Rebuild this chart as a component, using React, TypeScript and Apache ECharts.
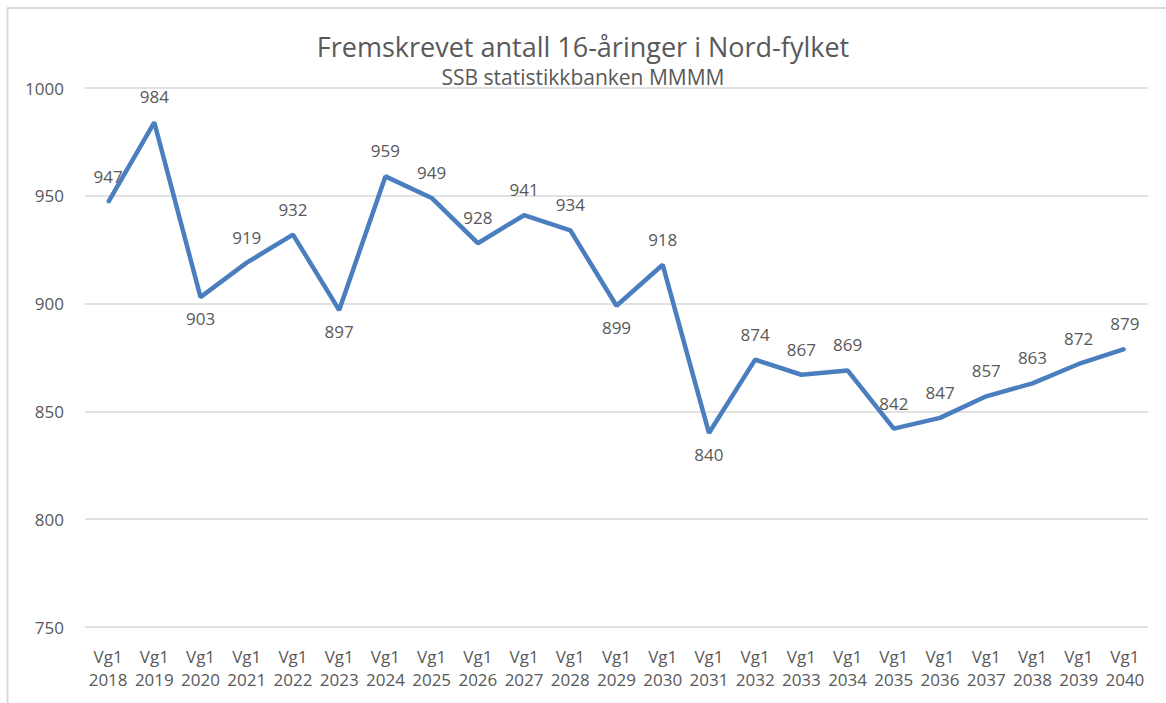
import React, { useEffect, useRef } from "react";
import * as echarts from "echarts";

const years = ["2018","2019","2020","2021","2022","2023","2024","2025","2026","2027","2028","2029","2030","2031","2032","2033","2034","2035","2036","2037","2038","2039","2040"];
const categories = years.map((y) => "Vg1\n" + y);
const values = [947, 984, 903, 919, 932, 897, 959, 949, 928, 941, 934, 899, 918, 840, 874, 867, 869, 842, 847, 857, 863, 872, 879];
const labelsBelow = ["2020", "2023", "2029", "2031"];
const yTicks = { min: 750, max: 1000, interval: 50 };
const titleText = "Fremskrevet antall 16-åringer i Nord-fylket";
const subtitleText = "SSB statistikkbanken MMMM";

const FONT = "'Open Sans', 'Noto Sans', sans-serif";
const GREY = "#595959";
const BLUE = "#4a7ebf";

export default function App() {
  const ref = useRef<HTMLDivElement>(null);
  useEffect(() => {
    document.body.style.margin = "0";
    const chart = echarts.init(ref.current!, null, { renderer: "svg" });
    const data = values.map((v, i) => {
      const below = labelsBelow.includes(years[i]);
      return {
        value: v,
        label: below
          ? { show: true, position: "bottom", distance: 12 }
          : { show: true, position: "top", distance: 16 },
      };
    });
    chart.setOption({
      animation: false,
      backgroundColor: "#ffffff",
      textStyle: { fontFamily: FONT },
      title: {
        text: titleText,
        subtext: subtitleText,
        left: "center",
        top: 28,
        itemGap: 6,
        textStyle: { fontFamily: FONT, fontSize: 27, fontWeight: "normal", color: GREY },
        subtextStyle: { fontFamily: FONT, fontSize: 21, color: GREY },
      },
      grid: { left: 85, right: 18, top: 88, bottom: 76 },
      xAxis: {
        type: "category",
        data: categories,
        boundaryGap: true,
        axisLine: { show: false },
        axisTick: { show: false },
        axisLabel: {
          interval: 0,
          color: GREY,
          fontSize: 17,
          lineHeight: 23,
          margin: 18,
          fontFamily: FONT,
        },
      },
      yAxis: {
        type: "value",
        min: yTicks.min,
        max: yTicks.max,
        interval: yTicks.interval,
        axisLine: { show: false },
        axisTick: { show: false },
        axisLabel: {
          color: GREY,
          fontSize: 17,
          margin: 21,
          fontFamily: FONT,
          formatter: (v: number) => String(v),
        },
        splitLine: { lineStyle: { color: "#d9d9d9", width: 1.5 } },
      },
      series: [
        {
          type: "line",
          data,
          symbol: "circle",
          symbolSize: 2,
          showSymbol: true,
          lineStyle: { color: BLUE, width: 4.5 },
          itemStyle: { color: BLUE },
          label: {
            show: true,
            color: GREY,
            fontSize: 17,
            fontFamily: FONT,
          },
        },
      ],
      graphic: [
        { type: "line", shape: { x1: 7.5, y1: 8, x2: 7.5, y2: 703 }, style: { stroke: "#d9d9d9", lineWidth: 2 } },
        { type: "line", shape: { x1: 7, y1: 8, x2: 1166, y2: 8 }, style: { stroke: "#d9d9d9", lineWidth: 2 } },
      ],
    });
    return () => chart.dispose();
  }, []);
  return <div ref={ref} style={{ width: 1166, height: 703 }} />;
}
